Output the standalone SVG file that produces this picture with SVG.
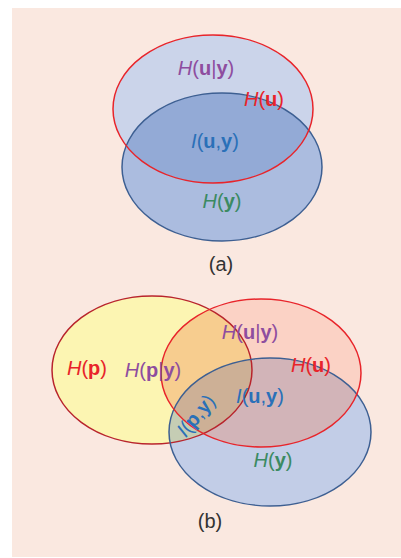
<svg xmlns="http://www.w3.org/2000/svg" width="401" height="558" viewBox="0 0 401 558">
<style>
text{font-family:"Liberation Sans",Arial,sans-serif;font-size:20px;text-anchor:middle}
.i{font-style:italic}
.b{font-weight:bold}
.cap{font-size:20px;fill:#333333}
.pu{fill:#8e4d9f}
.rd{fill:#e8242a}
.bl{fill:#2a70b8}
.gr{fill:#3b8a62}
.sr{fill:none;stroke:#e8242a;stroke-width:1.5}
.sb{fill:none;stroke:#3d5f92;stroke-width:1.5}
.sy{fill:none;stroke:#b8242c;stroke-width:1.5}
</style>
<defs>
<clipPath id="ca1"><ellipse cx="213" cy="109" rx="100" ry="74"/></clipPath>
<clipPath id="cy"><ellipse cx="152" cy="370" rx="100" ry="74"/></clipPath>
<clipPath id="cr"><ellipse cx="261" cy="373" rx="100" ry="74"/></clipPath>
<clipPath id="cb"><ellipse cx="270" cy="432" rx="101" ry="74"/></clipPath>
</defs>
<rect x="12" y="8" width="389" height="549" fill="#fae8e0"/>
<g id="diagram-a">
<g id="a-Hu">
<ellipse cx="213" cy="109" rx="100" ry="74" fill="#cbd4ea"/>
</g>
<g id="a-Hy">
<ellipse cx="222" cy="167" rx="100" ry="74" fill="#abbcdf"/>
<ellipse cx="222" cy="167" rx="100" ry="74" fill="#93aad6" clip-path="url(#ca1)"/>
</g>
<ellipse class="sb" cx="222" cy="167" rx="100" ry="74"/>
<ellipse class="sr" cx="213" cy="109" rx="100" ry="74"/>
<text class="pu" x="206" y="75"><tspan class="i">H</tspan>(<tspan class="b">u</tspan>|<tspan class="b">y</tspan>)</text>
<text class="rd" x="264" y="106"><tspan class="i">H</tspan>(<tspan class="b">u</tspan>)</text>
<text class="bl" x="215" y="148"><tspan class="i">I</tspan>(<tspan class="b">u</tspan>,<tspan class="b">y</tspan>)</text>
<text class="gr" x="222" y="208"><tspan class="i">H</tspan>(<tspan class="b">y</tspan>)</text>
<text class="cap" x="221" y="271">(a)</text>
</g>
<g id="diagram-b">
<g id="b-Hp">
<ellipse cx="152" cy="370" rx="100" ry="74" fill="#fcf5b2"/>
</g>
<g id="b-Hu">
<ellipse cx="261" cy="373" rx="100" ry="74" fill="#fbd2c5"/>
<ellipse cx="261" cy="373" rx="100" ry="74" fill="#f7cd8f" clip-path="url(#cy)"/>
</g>
<g id="b-Hy">
<ellipse cx="270" cy="432" rx="101" ry="74" fill="#c2cde7"/>
<ellipse cx="270" cy="432" rx="101" ry="74" fill="#d2b4b8" clip-path="url(#cr)"/>
<ellipse cx="270" cy="432" rx="101" ry="74" fill="#c5cdb4" clip-path="url(#cy)"/>
<g clip-path="url(#cy)"><ellipse cx="270" cy="432" rx="101" ry="74" fill="#cdb096" clip-path="url(#cr)"/></g>
</g>
<ellipse class="sy" cx="152" cy="370" rx="100" ry="74"/>
<ellipse class="sb" cx="270" cy="432" rx="101" ry="74"/>
<ellipse class="sr" cx="261" cy="373" rx="100" ry="74"/>
<text class="rd" x="87" y="375"><tspan class="i">H</tspan>(<tspan class="b">p</tspan>)</text>
<text class="pu" x="153" y="377"><tspan class="i">H</tspan>(<tspan class="b">p</tspan>|<tspan class="b">y</tspan>)</text>
<text class="pu" x="250" y="339"><tspan class="i">H</tspan>(<tspan class="b">u</tspan>|<tspan class="b">y</tspan>)</text>
<text class="rd" x="311" y="372"><tspan class="i">H</tspan>(<tspan class="b">u</tspan>)</text>
<text class="bl" x="260" y="403"><tspan class="i">I</tspan>(<tspan class="b">u</tspan>,<tspan class="b">y</tspan>)</text>
<text class="bl" transform="translate(201,420) rotate(-50)" x="0" y="0"><tspan class="i">I</tspan>(<tspan class="b">p</tspan>,<tspan class="b">y</tspan>)</text>
<text class="gr" x="273" y="467"><tspan class="i">H</tspan>(<tspan class="b">y</tspan>)</text>
<text class="cap" x="210" y="528">(b)</text>
</g>
</svg>
